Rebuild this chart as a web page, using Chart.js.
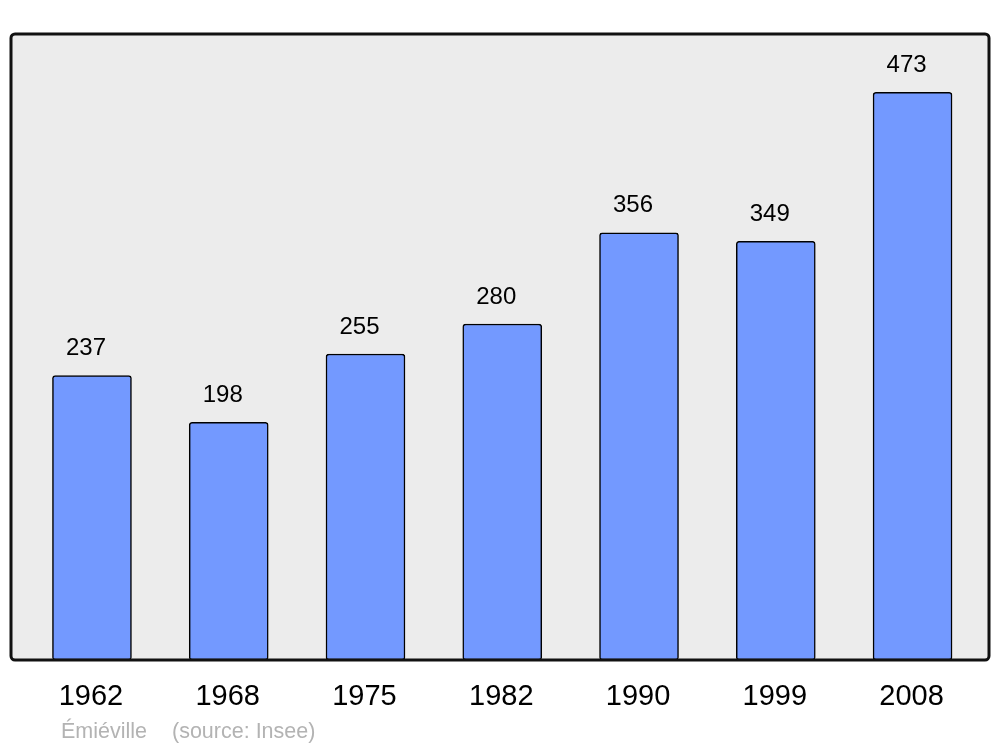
<!DOCTYPE html>
<html>
<head>
<meta charset="utf-8">
<script src="https://cdn.jsdelivr.net/npm/chart.js@4"></script>
<style>
  html, body { margin: 0; padding: 0; background: #fff; }
  #wrap { width: 1000px; height: 747px; position: relative; }
</style>
</head>
<body>
<div id="wrap"><canvas id="popChart"></canvas></div>
<script>
const years = ["1962", "1968", "1975", "1982", "1990", "1999", "2008"];
const population = [237, 198, 255, 280, 356, 349, 473];
const footerText = ["Émiéville", "(source: Insee)"];

const FONT = "'Liberation Sans', Arial, sans-serif";

// frame: grey fill behind bars, dark rounded border on top
const framePlugin = {
  id: "frame",
  beforeDatasetsDraw(chart) {
    const { ctx, chartArea: a } = chart;
    ctx.save();
    ctx.fillStyle = "#ececec";
    ctx.beginPath();
    ctx.roundRect(a.left, a.top, a.right - a.left, a.bottom - a.top, 4);
    ctx.fill();
    ctx.restore();
  },
  afterDatasetsDraw(chart) {
    const { ctx, chartArea: a, scales } = chart;
    ctx.save();
    ctx.strokeStyle = "#111";
    ctx.lineWidth = 3;
    ctx.beginPath();
    ctx.roundRect(a.left, a.top, a.right - a.left, a.bottom - a.top, 4);
    ctx.stroke();

    // value labels above bars
    ctx.fillStyle = "#000";
    ctx.font = "24px " + FONT;
    ctx.textAlign = "center";
    ctx.textBaseline = "middle";
    population.forEach((v, i) => {
      const x = scales.x.getPixelForValue(i) - 6;
      const y = scales.y.getPixelForValue(v) - 27;
      ctx.fillText(String(v), x, y);
    });

    // year labels below the frame
    ctx.font = "29px " + FONT;
    years.forEach((yr, i) => {
      ctx.fillText(yr, scales.x.getPixelForValue(i) - 1, a.bottom + 37);
    });

    // footer
    ctx.fillStyle = "#b3b3b3";
    ctx.font = "21.5px " + FONT;
    ctx.textAlign = "left";
    ctx.fillText(footerText[0], 61, a.bottom + 72);
    ctx.fillText(footerText[1], 172, a.bottom + 72);
    ctx.restore();
  }
};

new Chart(document.getElementById("popChart"), {
  type: "bar",
  data: {
    datasets: [{
      data: population.map((v, i) => ({ x: i, y: v })),
      backgroundColor: "#7399ff",
      borderColor: "#000",
      borderWidth: 1.5,
      borderRadius: 3,
      borderSkipped: false,
      barThickness: 79
    }]
  },
  options: {
    responsive: true,
    maintainAspectRatio: false,
    animation: false,
    layout: { padding: { left: 11, right: 11, top: 34, bottom: 87 } },
    plugins: { legend: { display: false }, tooltip: { enabled: false } },
    scales: {
      x: { type: "linear", min: -0.592, max: 6.559, offset: false, display: false },
      y: { min: 0, max: 521.7, display: false }
    }
  },
  plugins: [framePlugin]
});
</script>
</body>
</html>
